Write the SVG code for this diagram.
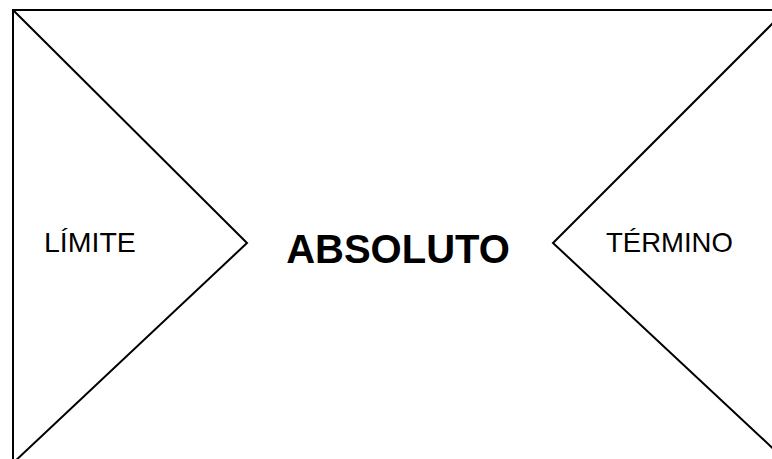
<svg xmlns="http://www.w3.org/2000/svg" width="772" height="459" viewBox="0 0 772 459">
<style>
.ln{fill:none;stroke:#000;stroke-width:2;stroke-linejoin:miter}
.t{font-family:"Liberation Sans",Arial,sans-serif;fill:#000}
</style>
<rect width="772" height="459" fill="#fff"/>
<g id="frame">
<polyline class="ln" points="13,470 13,10 790,10"/>
</g>
<g id="connectors">
<polyline class="ln" points="13,10 247,243 12,464"/>
<polyline class="ln" points="780,16 553,243 780,455"/>
</g>
<g id="limite"><text class="t" x="44" y="252" font-size="28.5">LÍMITE</text></g>
<g id="absoluto"><text class="t" x="398" y="263" font-size="40" font-weight="bold" text-anchor="middle">ABSOLUTO</text></g>
<g id="termino"><text class="t" x="606" y="252" font-size="27.5">TÉRMINO</text></g>
</svg>
